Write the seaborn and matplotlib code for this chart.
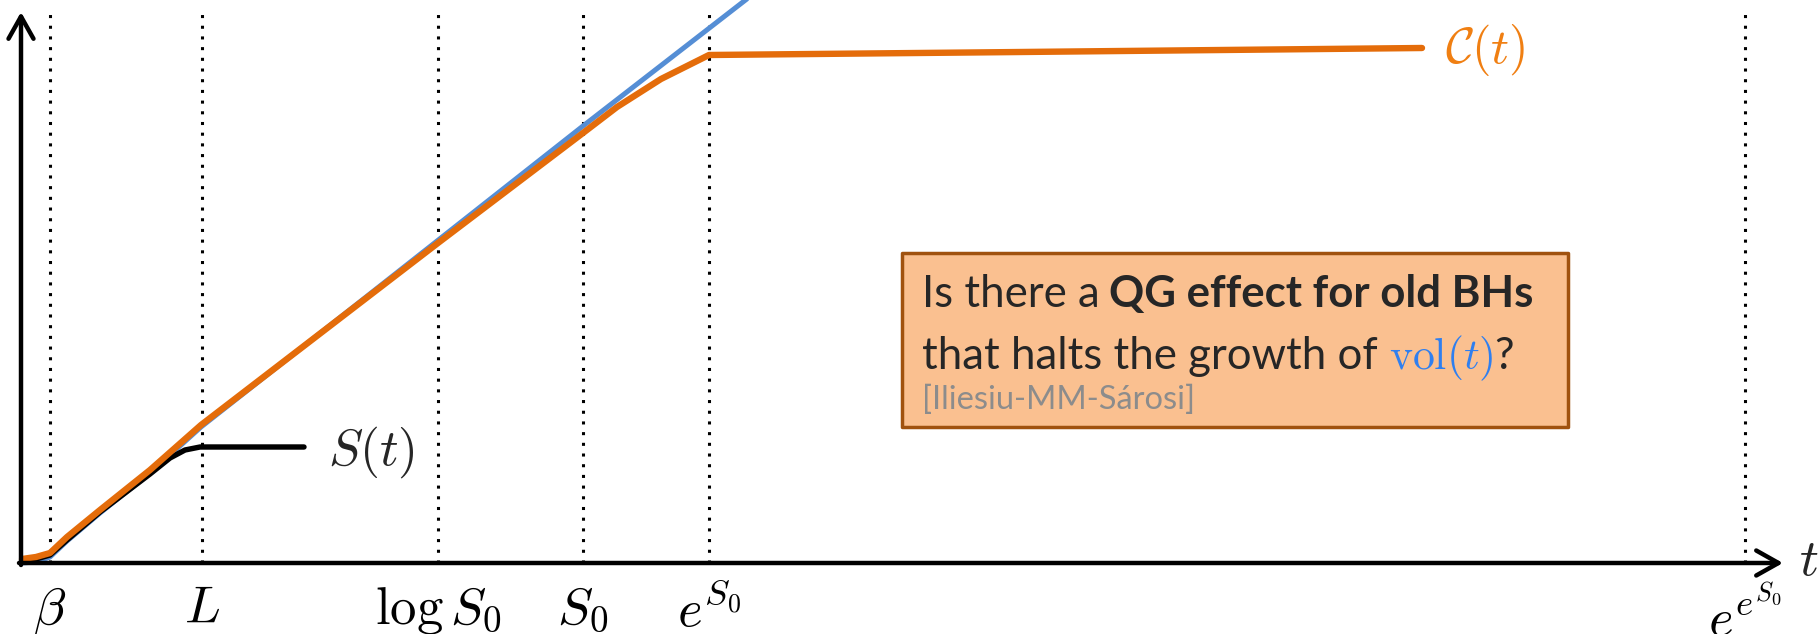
import matplotlib
matplotlib.use("Agg")
import matplotlib.pyplot as plt
import numpy as np
import pandas as pd
import seaborn as sns

sns.set_theme(style="white")
plt.rcParams["font.family"] = ["Lato", "DejaVu Sans"]
plt.rcParams["mathtext.fontset"] = "cm"

# ---- data (time axis and curve heights, arbitrary units) ----
tick_pos = [29, 181, 417, 562, 688, 1724]
tick_labels = [r"$\beta$", r"$L$", r"$\log S_0$", r"$S_0$", r"$e^{S_0}$", r"$e^{e^{S_0}}$"]

vol_t = [0, 15, 29, 46, 79, 129, 180, 562, 740]
vol_y = [0, 1, 6, 22, 50, 90, 136, 437, 575]

entropy_t = [1, 15, 29, 46, 79, 129, 149, 164, 179, 283]
entropy_y = [2, 4, 8, 23, 51, 89, 105, 113, 116, 116]

complexity_t = [1, 15, 29, 46, 79, 129, 180, 417, 562, 596, 640, 688, 1000, 1401]
complexity_y = [4, 6, 10, 26, 53, 93, 138, 320, 430, 456, 484, 508, 511, 515]

ORANGE = "#E46C0A"
BLUE = "#558ED5"

fig = plt.figure(figsize=(18.19, 6.34), dpi=100)
ax = fig.add_axes([0, 0, 1, 1])

# dotted guide lines at the marked times
for x in tick_pos:
    ax.plot([x, x], [0, 551], color="black", lw=2.2,
            linestyle=(0, (1, 2.5)), dash_capstyle="butt", zorder=1)

vol = pd.DataFrame({"t": vol_t, "y": vol_y})
ent = pd.DataFrame({"t": entropy_t, "y": entropy_y})
comp = pd.DataFrame({"t": complexity_t, "y": complexity_y})

sns.lineplot(data=vol, x="t", y="y", ax=ax, color=BLUE, lw=3.6,
             sort=False, estimator=None, zorder=2)
sns.lineplot(data=ent, x="t", y="y", ax=ax, color="black", lw=3.9,
             sort=False, estimator=None, zorder=3)
sns.lineplot(data=comp, x="t", y="y", ax=ax, color=ORANGE, lw=4.6,
             sort=False, estimator=None, zorder=4)
ax.set_xlim(-21, 1798)
ax.set_ylim(-71, 563)
ax.axis("off")

# axes with arrowheads
arrow = dict(arrowstyle="->,head_length=0.8,head_width=0.45", lw=3.2,
             color="black", mutation_scale=20, shrinkA=0, shrinkB=0)
ax.annotate("", xy=(1762, 0), xytext=(-2, 0), arrowprops=arrow, zorder=5)
ax.annotate("", xy=(0, 551), xytext=(0, -2), arrowprops=arrow, zorder=5)

# tick labels
for x, lab in zip(tick_pos, tick_labels):
    ax.text(x, -22, lab, ha="center", va="top", fontsize=38, color="black")
ax.text(1778, 2, r"$t$", ha="left", va="center", fontsize=38)

# curve labels
ax.text(350, 111, r"$S(t)$", ha="center", va="center", fontsize=37)
ax.text(1464, 513, r"$\mathcal{C}(t)$", ha="center", va="center",
        fontsize=36, color="#F07F12")

# question box
ax.fill_between([881, 1547], 136, 310, facecolor="#FAC090",
                edgecolor="#A0520F", lw=2.5, zorder=6)


def chain(pieces, x0, y0, size):
    prev = None
    for txt, gap, kw in pieces:
        if prev is None:
            prev = ax.text(x0, y0, txt, ha="left", va="baseline",
                           fontsize=size, zorder=7, **kw)
        else:
            prev = ax.annotate(txt, xy=(1, y0), xycoords=(prev, "data"),
                               xytext=(gap * size, 0), textcoords="offset points",
                               ha="left", va="baseline", fontsize=size,
                               zorder=7, **kw)
    return prev


FS = 31.5
chain([("Is there a", 0, {}),
       ("QG effect for old BHs", 0.22, {"fontweight": "bold"})],
      901, 256, FS)
chain([("that halts the growth of", 0, {}),
       (r"$\mathrm{vol}(t)$", 0.25, {"color": "#2F7FEF"}),
       ("?", 0.02, {})],
      901, 194, FS)
ax.text(901, 154, "[Iliesiu-MM-Sárosi]", ha="left", va="baseline",
        fontsize=23.5, color="#8C8C8C", zorder=7)

fig.savefig("out.png", dpi=100)
